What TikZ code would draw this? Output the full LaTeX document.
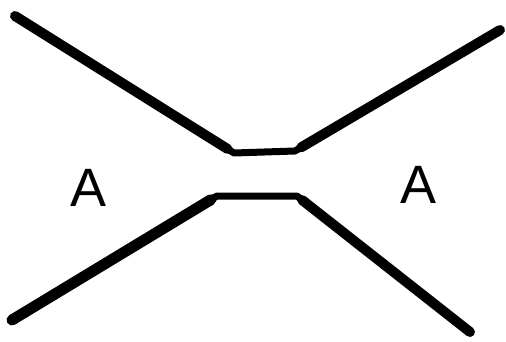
\documentclass[tikz,border=0pt]{standalone}
\usetikzlibrary{calc}
\usepackage{fontspec}
\setmainfont{Liberation Sans}
\begin{document}
\begin{tikzpicture}[x=1pt,y=-1pt,
  thick line/.style={line width=10pt,line cap=round,black},
  neck line/.style={line width=7pt,line join=round,line cap=round,black},
  label/.style={font=\fontsize{54}{60}\selectfont,inner sep=0pt}]
\useasboundingbox (0,0) rectangle (506,342);
% upper curve
\coordinate (u1) at (15,16);
\coordinate (u2) at (234,153);
\coordinate (u3) at (295,151);
\coordinate (u4) at (500,30);
% lower curve
\coordinate (l1) at (12,320);
\coordinate (l2) at (217,196);
\coordinate (l3) at (297,196);
\coordinate (l4) at (470,332);
\draw[neck line] (u1) -- (u2) -- (u3) -- (u4);
\draw[neck line] (l1) -- (l2) -- (l3) -- (l4);
\draw[thick line] (u1) -- ($(u1)!0.97!(u2)$);
\draw[thick line] ($(u4)!0.97!(u3)$) -- (u4);
\draw[thick line,line width=11pt] (l1) -- ($(l1)!0.97!(l2)$);
\draw[thick line] ($(l4)!0.97!(l3)$) -- (l4);
\node[label] (a1) at (89,188) {A};
\node[label] (a2) at (419,185) {A};
\end{tikzpicture}
\end{document}
